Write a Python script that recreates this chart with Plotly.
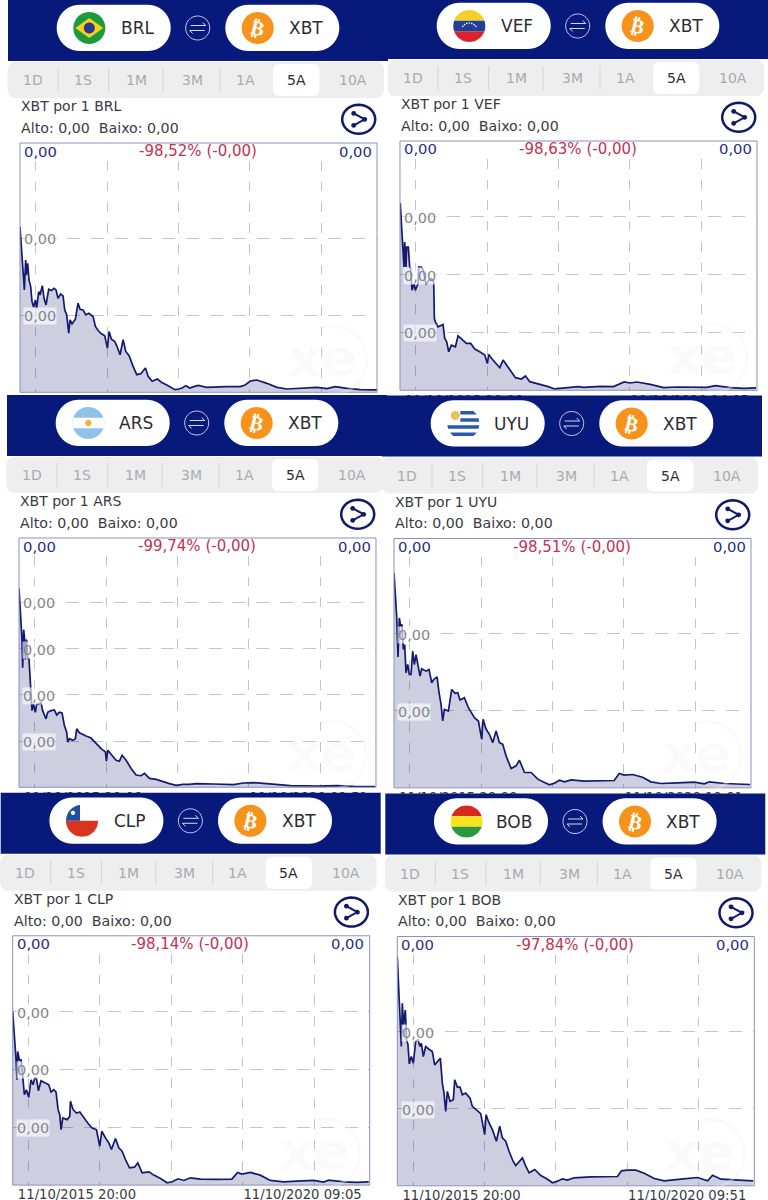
import math
import plotly.graph_objects as go

WIDTH, HEIGHT = 768, 1200
START_YEAR = 2015.78
STEPS_PER_YEAR = 214.0
FONT = "DejaVu Sans"

# ---- chart data: sample step since 11/10/2015 (214 steps per year), estimated level per step -----
brl_steps = [0,4,8,13,17,19,23,27,32,36,41,46,50,56,60,67,72,78,86,94,102,108,114,122,129,134,140,146,150,156,166,174,180,189,197,206,219,226,234,244,254,262,267,274,284,290,300,309,317,327,339,350,362,376,384,396,412,424,444,464,476,486,497,509,524,534,560,580,620,660,675,690,710,740,770,800,840,890,920,945,980,1020,1070]
brl_values = [498,448,398,308,398,353,388,338,318,273,256,278,253,303,293,321,283,263,310,306,313,308,283,296,290,248,233,178,218,206,220,268,250,248,233,238,228,198,186,176,170,133,183,160,153,140,113,158,123,110,78,53,56,73,48,33,40,30,20,8,10,13,20,13,18,21,15,16,17,17,22,34,37,27,15,10,12,15,11,17,12,8,7]
vef_steps = [0,1,4,9,12,14,18,20,25,29,32,36,42,46,54,56,64,70,78,86,94,101,103,106,114,129,134,140,146,154,166,174,184,199,212,224,239,254,262,266,276,289,299,309,319,334,346,364,376,389,409,424,444,464,484,504,534,550,600,640,672,690,710,750,790,830,880,920,945,990,1030,1067]
vef_values = [563,561,506,426,371,446,371,431,431,371,366,301,321,301,321,371,371,361,318,331,336,328,216,206,191,198,156,146,116,136,131,164,154,141,141,124,116,106,81,108,94,81,68,91,76,56,38,34,43,26,21,18,11,4,6,9,11,9,12,11,25,22,25,18,8,10,10,9,14,8,6,7]
ars_steps = [0,4,9,11,14,17,19,23,26,30,33,37,39,43,49,53,59,66,71,81,86,96,106,113,121,129,136,143,146,151,161,169,173,181,191,201,216,231,246,259,262,266,276,291,301,309,321,336,351,366,376,391,411,431,451,471,491,511,531,583,643,673,703,733,773,813,893,953,1003,1068]
ars_values = [602,527,447,362,477,447,387,447,392,387,337,297,232,252,227,252,252,257,232,207,227,232,234,219,227,225,187,167,137,147,142,147,177,165,159,155,149,132,117,107,79,112,99,82,79,97,82,57,37,35,42,27,24,17,11,6,9,9,11,10,8,13,14,12,8,5,4,5,3,2]
uyu_steps = [0,4,8,12,16,20,24,28,32,36,41,46,51,56,61,66,73,78,83,96,105,113,119,129,135,141,146,151,163,173,183,191,198,211,223,241,253,263,267,276,286,296,306,316,326,336,351,366,376,391,411,431,451,466,481,496,511,531,570,620,660,675,690,715,745,770,800,850,900,930,945,990,1030,1067]
uyu_values = [646,576,516,394,511,486,491,416,431,346,371,341,341,411,371,401,366,336,358,351,356,316,326,334,286,251,201,236,231,296,284,286,264,271,241,211,201,146,206,176,161,136,171,136,131,96,58,66,83,46,46,26,16,9,14,23,18,24,20,22,22,43,38,40,32,18,13,15,17,12,18,13,11,10]
clp_steps = [0,5,10,13,15,20,25,30,35,41,48,55,61,66,71,77,85,98,108,115,123,130,136,141,145,150,163,171,173,181,191,201,213,225,238,251,261,267,278,288,296,308,318,328,338,350,365,375,388,408,423,443,463,478,496,513,533,562,612,657,674,687,712,742,772,812,852,902,932,947,992,1032,1067]
clp_values = [522,457,377,317,402,377,377,327,272,287,264,317,302,322,322,284,314,307,302,280,287,280,227,212,167,202,197,207,252,227,217,220,202,187,172,167,117,162,142,127,107,140,112,102,77,52,54,67,37,40,30,20,7,10,19,14,22,18,17,18,38,33,38,30,14,10,12,14,9,15,10,8,10]
bob_steps = [0,4,8,12,15,19,24,28,32,36,42,48,55,62,68,72,78,85,95,105,112,120,129,135,140,145,150,158,168,172,180,188,195,205,218,225,238,250,262,266,275,285,297,307,315,325,335,347,355,375,385,395,412,430,448,465,480,495,510,530,580,620,660,672,690,715,740,770,800,850,900,930,945,970,1020,1050,1067]
bob_values = [689,609,539,419,549,484,529,439,424,367,389,369,434,439,419,429,389,419,411,404,364,374,384,309,279,224,284,254,259,319,297,297,274,279,264,239,229,217,154,214,189,169,134,179,144,134,104,74,61,84,59,39,49,31,21,9,14,21,17,24,27,27,28,45,47,47,38,22,15,20,25,15,32,20,17,14,15]

currencies = ["BRL", "VEF", "ARS", "UYU", "CLP", "BOB"]
changes = ["-98,52% (-0,00)", "-98,63% (-0,00)", "-99,74% (-0,00)", "-98,51% (-0,00)", "-98,14% (-0,00)", "-97,84% (-0,00)"]
end_stamps = ["11/10/2020 09:50", "11/10/2020 14:05", "11/10/2020 09:51", "11/10/2020 10:01", "11/10/2020 09:05", "11/10/2020 09:51"]
start_stamp = "11/10/2015 20:00"
tick_sizes = [232, 174, 140, 232, 174, 232]
tick_counts = [3, 4, 5, 3, 4, 3]
period_labels = ["1D", "1S", "1M", "3M", "1A", "5A", "10A"]
grid_years = [2016, 2017, 2018, 2019, 2020]
series = [(brl_steps, brl_values), (vef_steps, vef_values), (ars_steps, ars_values),
          (uyu_steps, uyu_values), (clp_steps, clp_values), (bob_steps, bob_values)]

# ---- page layout: offset of each screenshot in the collage -----
offsets = [(0, 0), (380, -2), (-1, 395), (374, 395.5), (-7.3, 792.8), (377.3, 793.5)]
NAVY = "#07197a"
LINE = "#141a6e"
FILL = "rgba(27,35,120,0.22)"
BORDER = "#8a90bf"
GRID = "#c4c4c6"

def fx(x): return x / WIDTH
def fy(y): return 1 - y / HEIGHT
def poly(pts):
    return "M" + " L".join(f"{fx(x):.5f},{fy(y):.5f}" for x, y in pts) + " Z"
def circle_pts(cx, cy, rx, ry=None, n=48):
    ry = rx if ry is None else ry
    return [(cx + rx * math.cos(2 * math.pi * i / n), cy + ry * math.sin(2 * math.pi * i / n)) for i in range(n)]
def rrect(x0, y0, x1, y1, r):
    pts = []
    for cx, cy, a0 in [(x1 - r, y0 + r, -90), (x1 - r, y1 - r, 0), (x0 + r, y1 - r, 90), (x0 + r, y0 + r, 180)]:
        for k in range(13):
            a = math.radians(a0 + 7.5 * k)
            pts.append((cx + r * math.cos(a), cy + r * math.sin(a)))
    return poly(pts)
def band(cx, cy, r, y0, y1, n=20, xmin=None):
    y0, y1 = max(y0, cy - r), min(y1, cy + r)
    ys = [y0 + (y1 - y0) * i / n for i in range(n + 1)]
    right = [(cx + math.sqrt(max(r * r - (y - cy) ** 2, 0)), y) for y in ys]
    left = [(cx - math.sqrt(max(r * r - (y - cy) ** 2, 0)), y) for y in reversed(ys)]
    if xmin is not None:
        left = [(max(px, xmin), y) for px, y in left]
    return poly(right + left)

shapes, annotations = [], []
def fill_shape(path, color):
    shapes.append(dict(type="path", xref="paper", yref="paper", path=path, fillcolor=color, line=dict(width=0), layer="above"))
def stroke_shape(pts, color, width, closed=False):
    p = "M" + " L".join(f"{fx(x):.5f},{fy(y):.5f}" for x, y in pts) + (" Z" if closed else "")
    shapes.append(dict(type="path", xref="paper", yref="paper", path=p, line=dict(color=color, width=width), layer="above"))
def text(x, y, s, size, color, anchor="center", family=FONT, weight=400, **kw):
    annotations.append(dict(xref="paper", yref="paper", x=fx(x), y=fy(y), text=s, showarrow=False, xanchor=anchor,
                            yanchor="middle", font=dict(size=size, color=color, family=family, weight=weight), borderpad=0, **kw))

def flag(code, cx, cy):
    r = 16
    if code == "BRL":
        fill_shape(poly(circle_pts(cx, cy, r)), "#1e9a3e")
        fill_shape(poly([(cx - 14, cy), (cx, cy - 10), (cx + 14, cy), (cx, cy + 10)]), "#f4d21f")
        fill_shape(poly(circle_pts(cx, cy, 5.5)), "#2a3a86")
    elif code == "VEF":
        fill_shape(band(cx, cy, r, cy - r, cy - 5.3), "#f4cf27")
        fill_shape(band(cx, cy, r, cy - 5.3, cy + 5.3), "#1f3f9a")
        fill_shape(band(cx, cy, r, cy + 5.3, cy + r), "#d8232f")
        for i in range(7):
            a = math.radians(215 + 110 * i / 6)
            fill_shape(poly(circle_pts(cx + 8 * math.cos(a), cy + 5 + 8 * math.sin(a), 0.8, n=8)), "#ffffff")
    elif code == "ARS":
        fill_shape(poly(circle_pts(cx, cy, r)), "#8fc3ea")
        fill_shape(band(cx, cy, r, cy - 5.3, cy + 5.3), "#ffffff")
        fill_shape(poly(circle_pts(cx, cy, 3.2)), "#f2b23c")
    elif code == "UYU":
        fill_shape(poly(circle_pts(cx, cy, r)), "#ffffff")
        h = 2 * r / 9
        for row in (1, 3, 5, 7):
            y0 = cy - r + row * h
            fill_shape(band(cx, cy, r, y0, y0 + h, n=6, xmin=(cx - 3 if row < 4 else None)), "#2a59b0")
        fill_shape(poly(circle_pts(cx - 8, cy - 8, 4.5)), "#e8c35a")
    elif code == "CLP":
        fill_shape(band(cx, cy, r, cy - r, cy), "#ffffff")
        fill_shape(band(cx, cy, r, cy, cy + r), "#d8341f")
        pts = [p for p in circle_pts(cx, cy, r) if p[0] <= cx - 2 and p[1] <= cy]
        fill_shape(poly([(cx - 2, cy), (cx - r, cy)] + sorted(pts, key=lambda p: p[0]) + [(cx - 2, cy - r + 0.2)]), "#1d4f9f")
        fill_shape(poly(circle_pts(cx - 9, cy - 8, 2.2, n=10)), "#ffffff")
    else:
        fill_shape(band(cx, cy, r, cy - r, cy - 5.3), "#d8291f")
        fill_shape(band(cx, cy, r, cy - 5.3, cy + 5.3), "#f6e21e")
        fill_shape(band(cx, cy, r, cy + 5.3, cy + r), "#2a9a3c")

def chrome(i):
    dx, dy = offsets[i]
    code = currencies[i]
    # header
    fill_shape(poly([(8 + dx, dy), (388 + dx, dy), (388 + dx, 61 + dy), (8 + dx, 61 + dy)]), NAVY)
    fill_shape(rrect(56.7 + dx, 4.7 + dy, 170.7 + dx, 51 + dy, 23), "#ffffff")
    fill_shape(rrect(225.3 + dx, 4.7 + dy, 339.3 + dx, 51 + dy, 23), "#ffffff")
    flag(code, 89.3 + dx, 28 + dy)
    fill_shape(poly(circle_pts(257.7 + dx, 28 + dy, 16)), "#f7931a")
    text(137 + dx, 28 + dy, code, 17, "#2d2d33")
    text(306 + dx, 28 + dy, "XBT", 17, "#2d2d33")
    text(257.7 + dx, 28 + dy, "₿", 20, "#ffffff", family="DejaVu Sans", weight=700, textangle=14)
    # swap icon
    sx, sy = 197.7 + dx, 28 + dy
    stroke_shape(circle_pts(sx, sy, 12, n=40), "#c5cbea", 1, closed=True)
    stroke_shape([(sx - 7, sy - 2.5), (sx + 8, sy - 2.5), (sx + 5, sy - 5.5)], "#d7dbf0", 1)
    stroke_shape([(sx + 7, sy + 2.5), (sx - 8, sy + 2.5), (sx - 5, sy + 5.5)], "#d7dbf0", 1)
    # period tabs
    fill_shape(rrect(7.5 + dx, 62 + dy, 384 + dx, 98 + dy, 8), "#eeeeef")
    fill_shape(rrect(273 + dx, 64 + dy, 319.3 + dx, 96 + dy, 6), "#ffffff")
    for sep in (58, 108.7, 163, 220):
        stroke_shape([(sep + dx, 68 + dy), (sep + dx, 92 + dy)], "#d4d4d6", 1)
    for lab, lx in zip(period_labels, (32.7, 83, 136, 192, 245, 296, 353)):
        text(lx + dx, 80 + dy, lab, 14, "#2d2d33" if lab == "5A" else "#a9abb0")
    # heading lines
    text(20 + dx, 106 + dy, f"XBT por 1 {code}", 14, "#3a3a40", anchor="left")
    text(20 + dx, 127.7 + dy, "Alto: 0,00  Baixo: 0,00", 14.2, "#3a3a40", anchor="left")
    # share icon
    cx, cy = 358.7 + dx, 119.3 + dy
    stroke_shape(circle_pts(cx, cy, 16.5, 14.5, n=40), "#101a68", 2.5, closed=True)
    stroke_shape([(cx - 5, cy - 6), (cx + 6, cy), (cx - 5, cy + 6)], "#101a68", 2)
    for px, py in ((cx - 5, cy - 6), (cx + 6, cy), (cx - 5, cy + 6)):
        fill_shape(poly(circle_pts(px, py, 2.4, n=12)), "#101a68")
    # chart frame and chart texts
    stroke_shape([(20 + dx, 143 + dy), (377 + dx, 143 + dy), (377 + dx, 392.3 + dy), (20 + dx, 392.3 + dy)], BORDER, 1, closed=True)
    text(23 + dx, 151 + dy, "0,00", 14.8, "#2a2f80", anchor="left")
    text(197.7 + dx, 151 + dy, changes[i], 15, "#c4314f")
    text(372.7 + dx, 151 + dy, "0,00", 14.8, "#2a2f80", anchor="right")
    # watermark
    ring = circle_pts(333 + dx, 360 + dy, 34, n=40)
    stroke_shape(ring[-12:] + ring[:12], "rgba(240,240,246,0.35)", 3)
    text(322 + dx, 358 + dy, "xe", 52, "rgba(238,238,245,0.3)", weight=800)

fig = go.Figure()
for i, (steps, values) in enumerate(series):
    n = "" if i == 0 else str(i + 1)
    dx, dy = offsets[i]
    years = [START_YEAR + s / STEPS_PER_YEAR for s in steps]
    fig.add_trace(go.Scatter(x=years, y=values, mode="lines", xaxis=f"x{n}", yaxis=f"y{n}",
                             line=dict(color=LINE, width=1.7), fill="tozeroy", fillcolor=FILL,
                             hoverinfo="skip", showlegend=False))
    tick = tick_sizes[i]
    count = tick_counts[i]
    fig.update_layout(**{
        f"xaxis{n}": dict(domain=[fx(20 + dx), fx(377 + dx)], range=[START_YEAR, START_YEAR + 5], anchor=f"y{n}",
                          tickmode="array", tickvals=[2016.68, 2019.84], ticktext=[start_stamp, end_stamps[i]],
                          showgrid=False, zeroline=False, showline=False, ticks="", ticklen=0, automargin=False,
                          ticklabelstandoff=0, tickfont=dict(size=13.2, color="#3a3a40", family=FONT),
                          minor=dict(tickmode="array", tickvals=grid_years, showgrid=True, griddash="9.7px,11px",
                                     gridcolor=GRID, gridwidth=1, ticks="")),
        f"yaxis{n}": dict(domain=[fy(392.3 + dy), fy(161 + dy)], range=[0, tick * count], anchor=f"x{n}",
                          tickmode="array", tickvals=[tick * k for k in range(1, count)], showticklabels=False,
                          showgrid=True, griddash="13px,10.7px", gridcolor=GRID, gridwidth=1, zeroline=False,
                          showline=False, ticks="", automargin=False),
    })
    chrome(i)
    for k in range(1, count):
        annotations.append(dict(xref="paper", yref=f"y{n}", x=fx(23.3 + dx), y=tick * k, yshift=-1, text="0,00",
                                showarrow=False, xanchor="left", yanchor="middle", borderpad=0,
                                bgcolor="rgba(255,255,255,0.62)", font=dict(size=14.4, color="#85858a", family=FONT)))

fig.update_layout(width=WIDTH, height=HEIGHT, margin=dict(l=0, r=0, t=0, b=0, pad=0, autoexpand=False), autosize=False,
                  paper_bgcolor="#ffffff", plot_bgcolor="rgba(0,0,0,0)", separators=",.",
                  hovermode=False, showlegend=False, shapes=shapes, annotations=annotations)
fig.write_html("out.html", config=dict(displayModeBar=False), default_width="768px", default_height="1200px",
               post_script="document.documentElement.style.margin='0';document.documentElement.style.overflow='hidden';document.body.style.margin='0';document.body.style.overflow='hidden';")
